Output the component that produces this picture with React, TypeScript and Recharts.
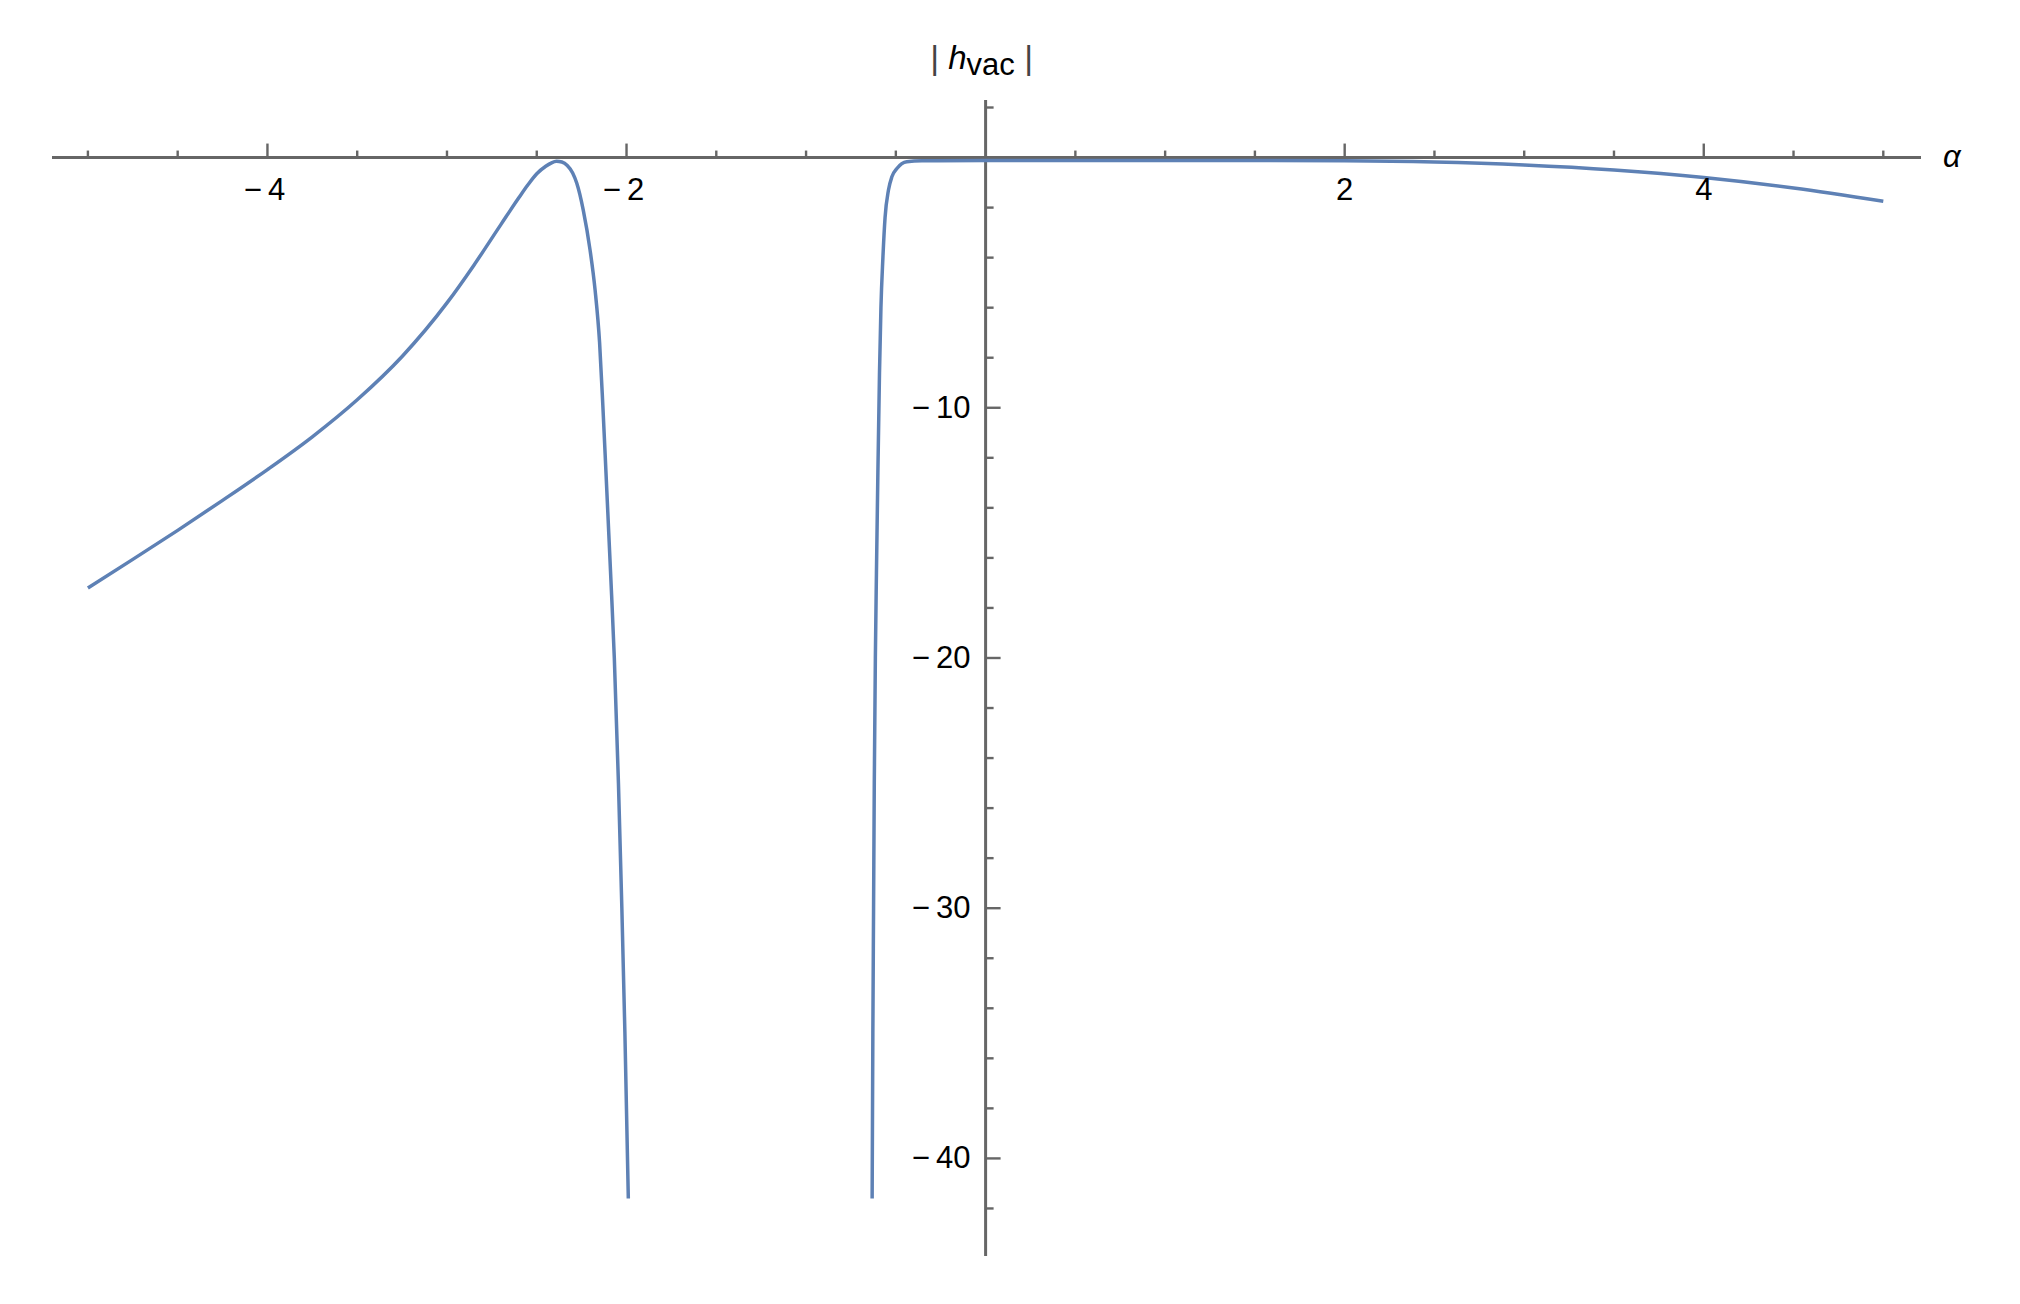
import { LineChart, Line, XAxis, YAxis, ReferenceLine, ReferenceDot } from 'recharts';

// |h_vac| against alpha. Left branch ends in the pole near -2,
// right branch starts at the pole near -0.63 and runs out to alpha = 5.
const ALPHA_LEFT = [
    -5.0, -4.75, -4.5, -4.25, -4.0, -3.75, -3.5, -3.25, -3.0, -2.85, -2.7, -2.6, -2.55, -2.5,
    -2.45, -2.42, -2.39, -2.36, -2.33, -2.3, -2.277, -2.241, -2.203, -2.175, -2.15, -2.132,
    -2.115, -2.099, -2.083, -2.068, -2.045, -2.026, -2.009, -1.99,
];
const H_LEFT = [
    -17.2, -16.06, -14.9, -13.7, -12.47, -11.16, -9.68, -7.95, -5.81, -4.3, -2.68, -1.61, -1.1, -0.65,
    -0.35, -0.22, -0.15, -0.18, -0.32, -0.62, -1.03, -2.1, -3.7, -5.3, -7.4, -9.9,
    -12.5, -15, -17.5, -20, -25, -30, -35, -41.6,
];
const ALPHA_RIGHT = [
    -0.632, -0.628, -0.624, -0.62, -0.614, -0.608, -0.6, -0.591, -0.583, -0.572, -0.56, -0.541,
    -0.522, -0.494, -0.439, -0.355, 0, 1, 1.5, 2, 2.5, 3, 3.5, 4, 4.5, 5,
];
const H_RIGHT = [
    -41.6, -35, -30, -25, -20, -16.6, -12.6, -8.6, -6.0, -4.0, -2.4, -1.3,
    -0.77, -0.44, -0.17, -0.13, -0.12, -0.12, -0.12, -0.13, -0.18, -0.3, -0.5, -0.8, -1.22, -1.75,
];

// ticks (Mathematica style: axes cross at the origin)
const X_MAJOR = [-4, -2, 2, 4];
const X_MINOR = [-5, -4.5, -3.5, -3, -2.5, -1.5, -1, -0.5, 0.5, 1, 1.5, 2.5, 3, 3.5, 4.5, 5];
const Y_MAJOR = [-10, -20, -30, -40];
const Y_MINOR = [2, -2, -4, -6, -8, -12, -14, -16, -18, -22, -24, -26, -28, -32, -34, -36, -38, -42];

const X_DOMAIN: [number, number] = [-5.2, 5.21];
const Y_DOMAIN: [number, number] = [-43.9, 2.3];

const leftData = ALPHA_LEFT.map((a, i) => ({ alpha: a, h: H_LEFT[i] }));
const rightData = ALPHA_RIGHT.map((a, i) => ({ alpha: a, h: H_RIGHT[i] }));

const AXIS = '#666666';
const CURVE = '#5e81b5';
const FONT = '"Liberation Sans", Arial, sans-serif';
const FS = 31;

const fmt = (v: number) => (v < 0 ? `\u2212\u2009${Math.abs(v)}` : `${v}`);

function xTick(value: number, major: boolean) {
    return (p: any) => (
        <g>
            <line x1={p.cx} y1={p.cy} x2={p.cx} y2={p.cy - (major ? 14 : 7)} stroke={AXIS} strokeWidth={2.4} />
            {major && (
                <text
                    x={p.cx - (value < 0 ? 3 : 0)}
                    y={p.cy + 42}
                    textAnchor="middle"
                    fontFamily={FONT}
                    fontSize={FS}
                    fill="#000"
                >
                    {fmt(value)}
                </text>
            )}
        </g>
    );
}

function yTick(value: number, major: boolean) {
    return (p: any) => (
        <g>
            <line x1={p.cx} y1={p.cy} x2={p.cx + (major ? 15 : 8)} y2={p.cy} stroke={AXIS} strokeWidth={2.4} />
            {major && (
                <text x={p.cx - 15} y={p.cy + 10} textAnchor="end" fontFamily={FONT} fontSize={FS} fill="#000">
                    {fmt(value)}
                </text>
            )}
        </g>
    );
}

const yTitle = (p: any) => (
    <text
        x={p.cx - 4}
        y={p.cy - 31}
        textAnchor="middle"
        fontFamily={FONT}
        fontSize={FS}
        fill="#000"
        style={{ whiteSpace: 'pre' }}
    >
        <tspan fill="#444" fontSize={34}>|</tspan>
        <tspan fontStyle="italic" fontSize={33}> h</tspan>
        <tspan dy={6}>vac</tspan>
        <tspan dy={-6} fill="#444" fontSize={34}> |</tspan>
    </text>
);

const xTitle = (p: any) => (
    <text x={p.cx + 22} y={p.cy + 9} fontFamily={FONT} fontSize={FS} fontStyle="italic" fill="#000">
        α
    </text>
);

export default function App() {
    return (
        <div style={{ position: 'absolute', left: 0, top: 0, width: 2020, height: 1304, background: '#fff' }}>
            <LineChart width={2020} height={1304} margin={{ top: 100, right: 99, bottom: 48, left: 52 }}>
                <XAxis type="number" dataKey="alpha" domain={X_DOMAIN} allowDataOverflow hide />
                <YAxis type="number" dataKey="h" domain={Y_DOMAIN} allowDataOverflow hide />

                {/* axes through the origin */}
                <ReferenceLine y={0} stroke={AXIS} strokeWidth={3} />
                <ReferenceLine x={0} stroke={AXIS} strokeWidth={3} />

                {X_MINOR.map((v) => (
                    <ReferenceDot key={`xm${v}`} x={v} y={0} r={0} ifOverflow="visible" shape={xTick(v, false)} />
                ))}
                {X_MAJOR.map((v) => (
                    <ReferenceDot key={`xM${v}`} x={v} y={0} r={0} ifOverflow="visible" shape={xTick(v, true)} />
                ))}
                {Y_MINOR.map((v) => (
                    <ReferenceDot key={`ym${v}`} x={0} y={v} r={0} ifOverflow="visible" shape={yTick(v, false)} />
                ))}
                {Y_MAJOR.map((v) => (
                    <ReferenceDot key={`yM${v}`} x={0} y={v} r={0} ifOverflow="visible" shape={yTick(v, true)} />
                ))}

                <ReferenceDot x={0} y={Y_DOMAIN[1]} r={0} ifOverflow="visible" shape={yTitle} />
                <ReferenceDot x={X_DOMAIN[1]} y={0} r={0} ifOverflow="visible" shape={xTitle} />

                <Line
                    data={leftData}
                    dataKey="h"
                    type="monotone"
                    stroke={CURVE}
                    strokeWidth={3.5}
                    dot={false}
                    activeDot={false}
                    isAnimationActive={false}
                />
                <Line
                    data={rightData}
                    dataKey="h"
                    type="monotone"
                    stroke={CURVE}
                    strokeWidth={3.5}
                    dot={false}
                    activeDot={false}
                    isAnimationActive={false}
                />
            </LineChart>
        </div>
    );
}
